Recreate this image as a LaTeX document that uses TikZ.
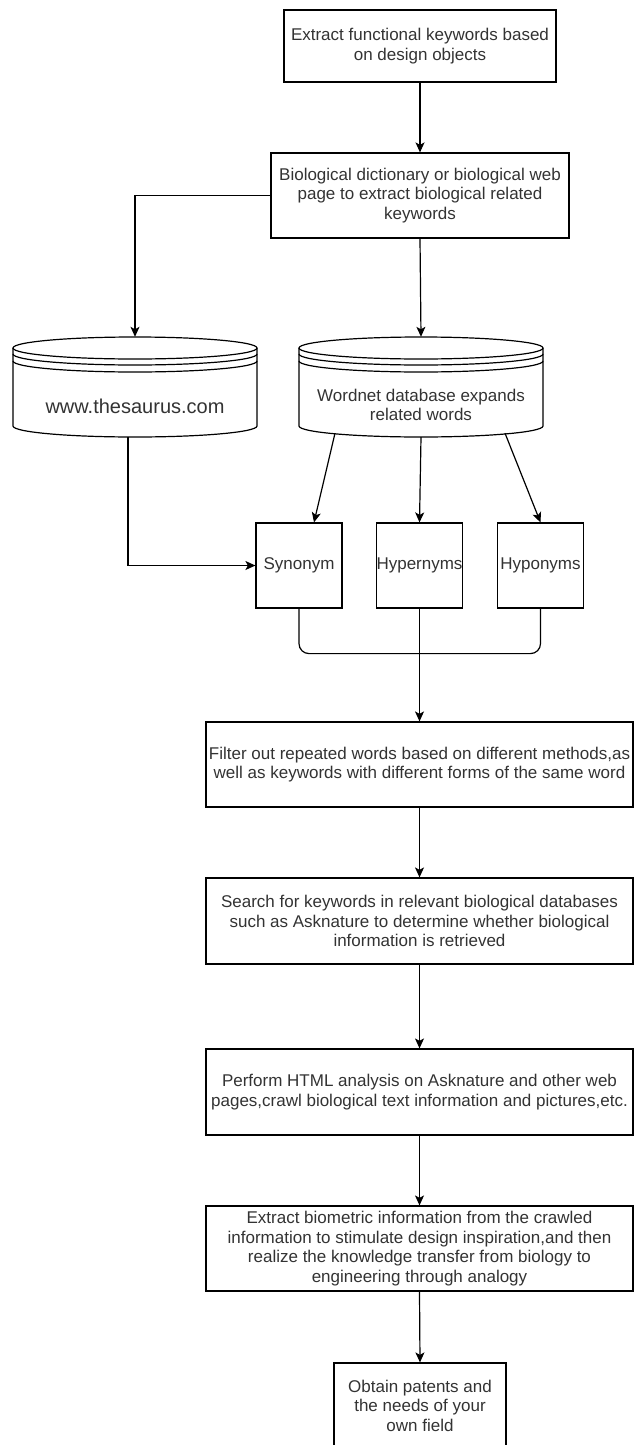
\documentclass[tikz,border=0pt]{standalone}
\usepackage{fontspec}
\setmainfont{Liberation Sans}
\usetikzlibrary{arrows.meta,calc}
\begin{document}
\begin{tikzpicture}[x=1pt,y=-1pt,
  font=\fontsize{17}{19.5}\selectfont,
  box/.style={draw=black, line width=1.2pt, align=center, inner sep=0pt, text=black!80, fill=white},
  arr/.style={-{Stealth[length=10pt,width=9pt,inset=2.5pt]}, line width=1.2pt},
  ln/.style={line width=1.2pt}]
\useasboundingbox (0,0) rectangle (634,1445);
\fill[white] (0,0) rectangle (634,1445);

% main boxes
\node[box, minimum width=272, minimum height=72] (b1) at (420,46) {Extract functional keywords based\\on design objects};
\node[box, minimum width=298, minimum height=85] (b2) at (420,195.5) {Biological dictionary or biological web\\page to extract biological related\\keywords};

% data stores
\foreach \cx in {135,421}{
  \draw[ln, fill=white] (\cx-122,348) -- (\cx-122,426)
     arc[start angle=180, end angle=360, x radius=122pt, y radius=11pt] -- (\cx+122,348);
  \draw[ln, fill=white] (\cx,348) ellipse[x radius=122pt, y radius=11pt];
  \draw[ln] (\cx-122,354) arc[start angle=180, end angle=360, x radius=122pt, y radius=11pt];
  \draw[ln] (\cx-122,361) arc[start angle=180, end angle=360, x radius=122pt, y radius=11pt];
}
\node[minimum width=244, minimum height=100, inner sep=0pt] (thes) at (135,387) {};
\node[text=black!80, inner sep=0pt, font=\fontsize{20}{23}\selectfont] (thestext) at (135,406) {www.thesaurus.com};
\node[minimum width=244, minimum height=100, inner sep=0pt] (wn) at (421,387) {};
\node[align=center, text=black!80, inner sep=0pt] (wntext) at (421,405) {Wordnet database expands\\related words};

% three word-relation boxes
\node[box, minimum width=86, minimum height=85] (syn) at (299,565.5) {Synonym};
\node[box, minimum width=86, minimum height=85] (hyper) at (419.5,565.5) {Hypernyms};
\node[box, minimum width=86, minimum height=85] (hypo) at (540.5,565.5) {Hyponyms};

% lower chain
\node[box, minimum width=427, minimum height=85] (filter) at (419.5,764.5) {Filter out repeated words based on different methods,as\\well as keywords with different forms of the same word};
\node[box, minimum width=427, minimum height=86] (search) at (419.5,921) {Search for keywords in relevant biological databases\\such as Asknature to determine whether biological\\information is retrieved};
\node[box, minimum width=427, minimum height=86] (perform) at (419.5,1092) {Perform HTML analysis on Asknature and other web\\pages,crawl biological text information and pictures,etc.};
\node[box, minimum width=427, minimum height=85] (extract) at (419.5,1248.5) {Extract biometric information from the crawled\\information to stimulate design inspiration,and then\\realize the knowledge transfer from biology to\\engineering through analogy};
\node[box, minimum width=172, minimum height=85] (obtain) at (420,1405.5) {Obtain patents and\\the needs of your\\own field};

% connectors
\draw[arr] (b1.south) -- (b2.north);
\draw[arr] (b2.west) -| (thes.north);
\draw[arr] (b2.south) -- (wn.north);
\draw[arr] ($(wn.south)+(-86,-4)$) -- ($(syn.north)+(15,0)$);
\draw[arr] (wn.south) -- (hyper.north);
\draw[arr] ($(wn.south)+(84,-4)$) -- (hypo.north);
\draw[arr] ($(thes.south)+(-7,0)$) |- (syn.west);
\draw[ln, rounded corners=10pt] (syn.south) -- ($(syn.south)+(0,45)$) -| (hypo.south);
\draw[arr] (hyper.south) -- (filter.north);
\draw[arr] (filter.south) -- (search.north);
\draw[arr] (search.south) -- (perform.north);
\draw[arr] (perform.south) -- (extract.north);
\draw[arr] (extract.south) -- (obtain.north);
\end{tikzpicture}
\end{document}
